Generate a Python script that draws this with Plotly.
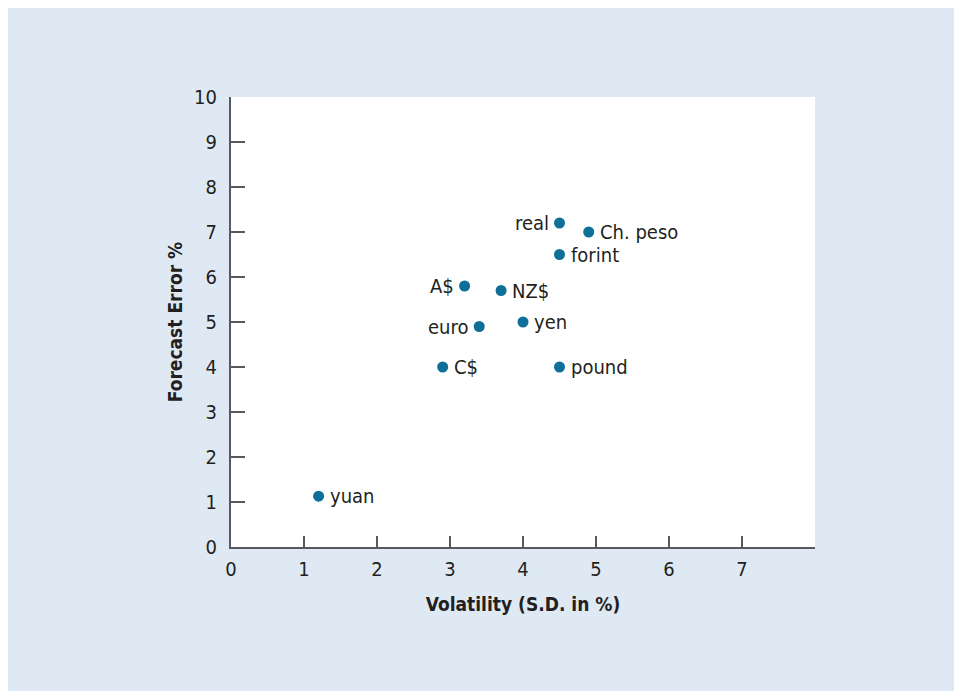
import plotly.graph_objects as go

# currency data: volatility (S.D. in %) vs forecast error %
currencies = ["yuan", "C$", "euro", "A$", "NZ$", "yen", "pound", "real", "Ch. peso", "forint"]
volatility = [1.2, 2.9, 3.4, 3.2, 3.7, 4.0, 4.5, 4.5, 4.9, 4.5]
forecastError = [1.13, 4.0, 4.9, 5.8, 5.7, 5.0, 4.0, 7.2, 7.0, 6.5]
labelSide = ["right", "right", "left", "left", "right", "right", "right", "left", "right", "right"]

xTicks = [0, 1, 2, 3, 4, 5, 6, 7]
yTicks = [0, 1, 2, 3, 4, 5, 6, 7, 8, 9, 10]

fontFamily = "DejaVu Sans Condensed, Liberation Sans, sans-serif"
textColor = "#231f20"
axisColor = "#58595b"
panelBlue = "#dfe9f4"

fig = go.Figure(go.Scatter(
    x=volatility, y=forecastError, mode="markers",
    marker=dict(color="#0e6f99", size=11),
    cliponaxis=False, hoverinfo="skip"))

# point labels, to the left or right of each dot
for name, vx, vy, side in zip(currencies, volatility, forecastError, labelSide):
    fig.add_annotation(
        x=vx, y=vy, text=name, showarrow=False,
        xanchor="left" if side == "right" else "right",
        xshift=9 if side == "right" else -9,
        font=dict(size=20, color=textColor))

fig.update_layout(
    width=962, height=691,
    margin=dict(l=223, r=155, t=89, b=152),
    paper_bgcolor=panelBlue, plot_bgcolor="white",
    showlegend=False,
    font=dict(family=fontFamily, size=20, color=textColor),
)

fig.update_xaxes(
    range=[0, 8], tickvals=xTicks, ticks="inside", ticklen=11, tickwidth=2,
    tickcolor=axisColor, showline=True, linecolor=axisColor, linewidth=2,
    showgrid=False, zeroline=False, ticklabelstandoff=3,
    title=dict(text="<b>Volatility (S.D. in %)</b>", font=dict(size=19), standoff=18))
fig.update_yaxes(
    range=[0, 10], tickvals=yTicks, ticks="inside", ticklen=14, tickwidth=2,
    tickcolor=axisColor, showline=True, linecolor=axisColor, linewidth=2,
    showgrid=False, zeroline=False, ticklabelstandoff=8,
    title=dict(text="<b>Forecast Error %</b>", font=dict(size=19), standoff=6))

fig.write_html("out.html")
